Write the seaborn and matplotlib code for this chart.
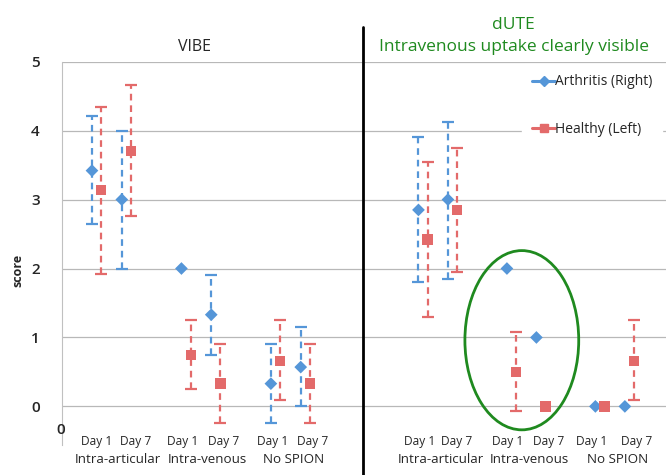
import numpy as np
import pandas as pd
import seaborn as sns
import matplotlib
matplotlib.use("Agg")
import matplotlib.pyplot as plt
from matplotlib.patches import Ellipse
from matplotlib.lines import Line2D

# ---- data ----
groups = ["Intra-articular", "Intra-venous", "No SPION"]
days = ["Day 1", "Day 7"]
series = ["Arthritis (Right)", "Healthy (Left)"]
nan = np.nan

vibe_arth_mean = [3.42, 3.00, 2.00, 1.33, 0.33, 0.57]
vibe_arth_lo = [2.65, 2.00, nan, 0.75, -0.24, 0.00]
vibe_arth_hi = [4.21, 4.00, nan, 1.91, 0.91, 1.15]
vibe_heal_mean = [3.14, 3.70, 0.75, 0.33, 0.66, 0.33]
vibe_heal_lo = [1.92, 2.76, 0.25, -0.24, 0.09, -0.24]
vibe_heal_hi = [4.35, 4.66, 1.25, 0.91, 1.25, 0.91]

dute_arth_mean = [2.85, 3.00, 2.00, 1.00, 0.00, 0.00]
dute_arth_lo = [1.80, 1.85, nan, nan, nan, nan]
dute_arth_hi = [3.91, 4.13, nan, nan, nan, nan]
dute_heal_mean = [2.42, 2.85, 0.50, 0.00, 0.00, 0.66]
dute_heal_lo = [1.29, 1.95, -0.07, nan, nan, 0.09]
dute_heal_hi = [3.55, 3.75, 1.08, nan, nan, 1.25]

# category slots (blank slot between groups, like the Excel chart)
slots = [0, 1, 3, 4, 6, 7]

blue = "#5596d8"
red = "#e36a6a"
green = "#1f8a1f"
grid_c = "#b8b8b8"

sns.set_style("white")
plt.rcParams["font.family"] = ["Open Sans", "DejaVu Sans"]

W, H = 666, 475
fig = plt.figure(figsize=(W / 100, H / 100), dpi=100)


def px(x0, y0, x1, y1):
    return [x0 / W, 1 - y1 / H, (x1 - x0) / W, (y1 - y0) / H]


def make_df(am, al, ah, hm, hl, hh):
    rows = []
    for i, s in enumerate(slots):
        g = groups[i // 2]
        d = days[i % 2]
        rows.append(dict(slot=s, group=g, day=d, series=series[0], off=-0.155,
                         mean=am[i], lo=al[i], hi=ah[i]))
        rows.append(dict(slot=s, group=g, day=d, series=series[1], off=0.155,
                         mean=hm[i], lo=hl[i], hi=hh[i]))
    df = pd.DataFrame(rows)
    df["x"] = df["slot"] + df["off"]
    return df


def draw_panel(ax, df):
    for s, col in zip(series, [blue, red]):
        sub = df[(df["series"] == s) & df["lo"].notna()]
        eb = ax.errorbar(sub["x"], sub["mean"],
                         yerr=[sub["mean"] - sub["lo"], sub["hi"] - sub["mean"]],
                         fmt="none", ecolor=col, elinewidth=1.6, capsize=4,
                         capthick=1.6, zorder=2)
        eb[2][0].set_linestyle((0, (3, 2.2)))
    sns.scatterplot(data=df, x="x", y="mean", hue="series", style="series",
                    markers={series[0]: "D", series[1]: "s"},
                    palette={series[0]: blue, series[1]: red},
                    size="series", sizes={series[0]: 42, series[1]: 55},
                    edgecolor="none", legend=False, ax=ax, zorder=3)
    ax.set_ylim(-0.56, 5)
    ax.set_yticks([0, 1, 2, 3, 4, 5])
    ax.grid(axis="y", color=grid_c, linewidth=0.9)
    ax.grid(axis="x", visible=False)
    ax.set_xticks([])
    ax.set_xlabel("")
    ax.set_ylabel("")
    for sp in ax.spines.values():
        sp.set_visible(False)
    ax.set_facecolor("none")


# ---- left panel: VIBE ----
ax1 = fig.add_axes(px(62, 61.7, 362, 445))
draw_panel(ax1, make_df(vibe_arth_mean, vibe_arth_lo, vibe_arth_hi,
                        vibe_heal_mean, vibe_heal_lo, vibe_heal_hi))
ax1.set_xlim(-1.16, 8.9)
ax1.spines["left"].set_visible(True)
ax1.spines["left"].set_color("#c0c0c0")
ax1.tick_params(axis="y", length=5, color="#c0c0c0", pad=11, labelsize=11)
for t in ax1.get_yticklabels():
    t.set_fontweight("semibold")

day_x1 = [0.0, 1.3, 2.9, 4.25, 5.9, 7.25]
for i, xx in enumerate(day_x1):
    ax1.text(xx, -0.51, days[i % 2], ha="center", va="center", fontsize=8.6)
for i, xx in enumerate([0.7, 3.7, 6.6]):
    ax1.text(xx, -0.77, groups[i], ha="center", va="center", fontsize=9.6,
             clip_on=False)

# ---- right panel: dUTE ----
ax2 = fig.add_axes(px(362, 61.7, 666, 445))
draw_panel(ax2, make_df(dute_arth_mean, dute_arth_lo, dute_arth_hi,
                        dute_heal_mean, dute_heal_lo, dute_heal_hi))
ax2.set_xlim(-2.07, 8.24)
ax2.set_yticklabels([])
ax2.tick_params(axis="y", length=0)

day_x2 = [-0.1, 1.15, 2.88, 4.25, 5.73, 7.25]
for i, xx in enumerate(day_x2):
    ax2.text(xx, -0.51, days[i % 2], ha="center", va="center", fontsize=8.6)
for i, xx in enumerate([0.6, 3.6, 6.6]):
    ax2.text(xx, -0.77, groups[i], ha="center", va="center", fontsize=9.6,
             clip_on=False)

ax2.add_patch(Ellipse((3.35, 0.96), 3.86, 2.6, fill=False, edgecolor=green,
                      linewidth=2, zorder=4))

handles = [Line2D([], [], color=blue, marker="D", markersize=5, linewidth=2.2),
           Line2D([], [], color=red, marker="s", markersize=6, linewidth=2.2)]
leg = ax2.legend(handles, series, loc="upper left",
                 bbox_to_anchor=(522 / W, 1 - 64 / H),
                 bbox_transform=fig.transFigure, frameon=True, fontsize=10,
                 handlelength=1.6, handletextpad=0.0, labelspacing=2.35,
                 borderpad=0.75, borderaxespad=0)
leg.get_frame().set_facecolor("white")
leg.get_frame().set_edgecolor("white")
leg.get_frame().set_alpha(1)

# divider line between the two panels
fig.add_artist(Line2D([362.5 / W, 362.5 / W], [0, 1 - 27 / H], color="black",
                      linewidth=2))

# titles and labels
fig.text(195 / W, 1 - 47 / H, "VIBE", ha="center", va="center", fontsize=11.5)
fig.text(513 / W, 1 - 25 / H, "dUTE", ha="center", va="center", fontsize=12.5,
         color=green)
fig.text(514 / W, 1 - 47 / H, "Intravenous uptake clearly visible",
         ha="center", va="center", fontsize=12.5, color=green)
fig.text(18 / W, 1 - 270 / H, "score", ha="center", va="center", rotation=90,
         fontsize=9, fontweight="bold")
fig.text(61 / W, 1 - 430 / H, "0", ha="center", va="center", fontsize=11,
         fontweight="semibold")

fig.savefig("out.png", dpi=100)
